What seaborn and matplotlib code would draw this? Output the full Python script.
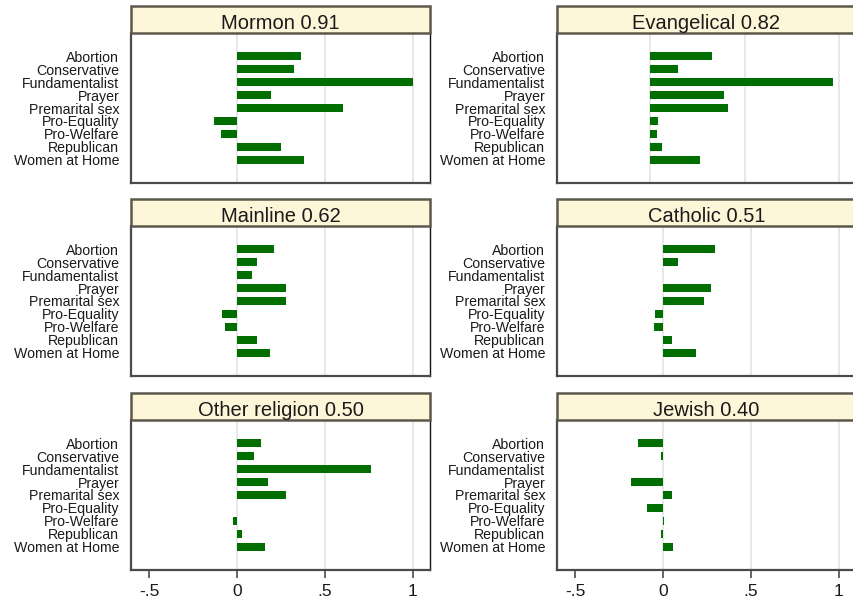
import matplotlib
matplotlib.use("Agg")
import matplotlib.pyplot as plt
import seaborn as sns
import pandas as pd
from matplotlib.patches import Rectangle

items = ["Abortion", "Conservative", "Fundamentalist", "Prayer", "Premarital sex",
         "Pro-Equality", "Pro-Welfare", "Republican", "Women at Home"]
groups = ["Mormon 0.91", "Evangelical 0.82", "Mainline 0.62",
          "Catholic 0.51", "Other religion 0.50", "Jewish 0.40"]

mormon = [0.364, 0.324, 1.0, 0.191, 0.60, -0.131, -0.091, 0.248, 0.381]
evangelical = [0.327, 0.145, 0.968, 0.389, 0.412, 0.041, 0.035, 0.062, 0.261]
mainline = [0.210, 0.112, 0.083, 0.277, 0.277, -0.085, -0.070, 0.112, 0.188]
catholic = [0.294, 0.083, 0.0, 0.271, 0.231, -0.045, -0.051, 0.049, 0.186]
other = [0.134, 0.097, 0.759, 0.174, 0.277, 0.0, -0.023, 0.030, 0.159]
jewish = [-0.142, -0.009, 0.0, -0.182, 0.051, -0.091, 0.006, -0.009, 0.057]

xticks = [-0.5, 0, 0.5, 1]
xticklabels = ["-.5", "0", ".5", "1"]

series = [mormon, evangelical, mainline, catholic, other, jewish]
rows = []
for g, vals in zip(groups, series):
    for it, v in zip(items, vals):
        rows.append({"group": g, "item": it, "value": v})
df = pd.DataFrame(rows)

sns.set_style("white")
plt.rcParams["font.family"] = ["Liberation Sans", "DejaVu Sans"]

W, H = 854, 605
fig = plt.figure(figsize=(W / 100, H / 100), dpi=100)

col_left = [131, 557]
ax_w = 299
row_top = [33, 226, 420]
row_bot = [183, 376, 570]
title_h = 27

bar_color = "#006E00"
frame_col = "#4a4a4a"
strip_col = "#FEF6D8"
strip_edge = "#5c584c"

for i, g in enumerate(groups):
    r, c = divmod(i, 2)
    x0 = col_left[c]
    y0 = row_top[r]
    y1 = row_bot[r]
    ax = fig.add_axes([x0 / W, 1 - y1 / H, ax_w / W, (y1 - y0) / H])
    sub = df[df["group"] == g]
    sns.barplot(data=sub, y="item", x="value", order=items, orient="h",
                color=bar_color, saturation=1, width=0.62, ax=ax,
                edgecolor="none", errorbar=None)
    if g.startswith("Evangelical"):
        ax.set_xlim(-0.494, 1.09)
    else:
        ax.set_xlim(-0.602, 1.097)
    ax.set_ylim(8 + 1.82, -1.82)
    for gx in [0, 0.5, 1]:
        ax.axvline(gx, color="#E4E4E4", lw=1.2, zorder=0)
    ax.set_xlabel("")
    ax.set_ylabel("")
    ax.tick_params(axis="y", length=0, pad=8.5, labelsize=10.2, labelcolor="#1a1a1a")
    if r == 2:
        ax.set_xticks(xticks)
        ax.set_xticklabels(xticklabels)
        ax.tick_params(axis="x", length=6, width=1.2, color=frame_col,
                       labelsize=12.5, pad=4, labelcolor="#1a1a1a", bottom=True)
    else:
        ax.set_xticks([])
    for s in ["left", "bottom"]:
        ax.spines[s].set_color(frame_col)
        ax.spines[s].set_linewidth(1.6)
    ax.spines["right"].set_color("#111111")
    ax.spines["right"].set_linewidth(1.0)
    ax.spines["top"].set_visible(False)

    # title strip
    tax = fig.add_axes([x0 / W, 1 - y0 / H, ax_w / W, title_h / H])
    tax.set_xlim(0, 1)
    tax.set_ylim(0, 1)
    tax.axis("off")
    tax.add_patch(Rectangle((0, 0), 1, 1, facecolor=strip_col, edgecolor=strip_edge,
                            lw=1.8, transform=tax.transAxes, clip_on=False))
    tax.text(0.5, 0.14, g, ha="center", va="baseline", fontsize=14.5, color="#1a1a1a")

fig.savefig("out.png", dpi=100, facecolor="white")
